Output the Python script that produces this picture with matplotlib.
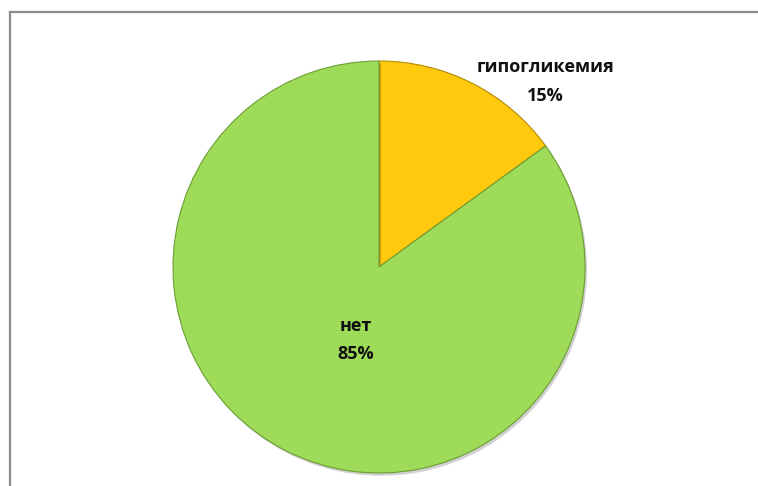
import matplotlib
matplotlib.use("Agg")
import matplotlib.pyplot as plt
import matplotlib.patheffects as pe
from matplotlib.lines import Line2D

# ── Data ──────────────────────────────────────────────────────────────────────
labels = ["гипогликемия", "нет"]
shares = [15, 85]
colors = ["#ffc90e", "#9ddb58"]
edges = ["#b38a00", "#6c9e34"]

W, H = 758, 486
CX, CY, R = 379, 267, 206     # pie centre / radius in pixels

fig = plt.figure(figsize=(W / 100, H / 100), dpi=100, facecolor="white")
ax = fig.add_axes([(CX - R) / W, (H - CY - R) / H, 2 * R / W, 2 * R / H])
ax.set_aspect("equal")

wedges, _ = ax.pie(
    shares,
    colors=colors,
    startangle=90,
    counterclock=False,
    radius=1.0,
    wedgeprops=dict(linewidth=0.8),
)
for w, ec in zip(wedges, edges):
    w.set_edgecolor(ec)
    w.set_path_effects([
        pe.SimplePatchShadow(offset=(1.5, -2), shadow_rgbFace="#000000", alpha=0.18),
        pe.Normal(),
    ])

ax.set_xlim(-1, 1)
ax.set_ylim(-1, 1)
ax.axis("off")

# labels: name on top, percent below
label_pos = [(0.806, 0.90), (-0.112, -0.355)]
for name, val, (x, y) in zip(labels, shares, label_pos):
    ax.text(x, y, f"{name}\n{val}%", ha="center", va="center",
            fontsize=13, fontweight="bold", family="Open Sans",
            color="#111111", linespacing=1.75)

# chart area frame (top and left edges visible)
fig.add_artist(Line2D([9.5 / W, 1.0], [1 - 12.5 / H, 1 - 12.5 / H],
                      transform=fig.transFigure, color="#8c8c8c", lw=1.6))
fig.add_artist(Line2D([9.5 / W, 9.5 / W], [0.0, 1 - 12.5 / H],
                      transform=fig.transFigure, color="#8c8c8c", lw=1.6))

fig.savefig("out.png", dpi=100, facecolor="white")
